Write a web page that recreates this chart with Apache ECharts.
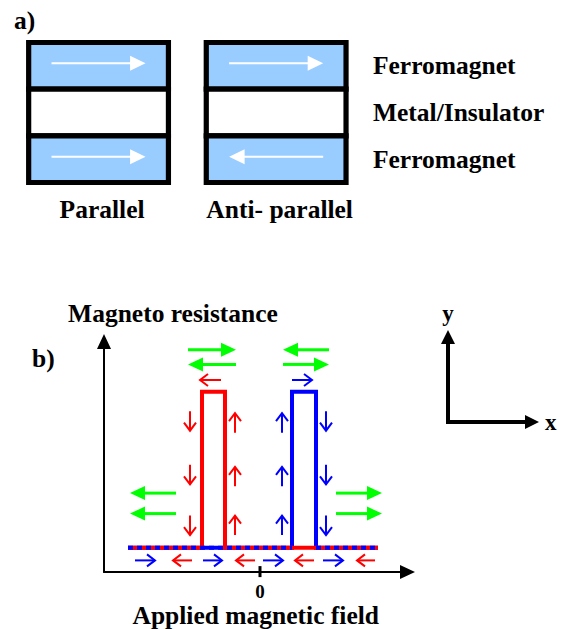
<!DOCTYPE html>
<html><head><meta charset="utf-8">
<script src="https://cdn.jsdelivr.net/npm/echarts@6/dist/echarts.min.js"></script>
<style>html,body{margin:0;padding:0;background:#fff}#c{width:567px;height:629px}</style>
</head><body><div id="c"></div>
<script>
// ---------------- data ----------------
// a) spin-valve stacks
const configurations = ['Parallel', 'Anti- parallel'];
const layers = ['Ferromagnet', 'Metal/Insulator', 'Ferromagnet'];
// magnetisation of each layer: +1 = right, -1 = left, 0 = non-magnetic spacer
const magnetParallel = [1, 0, 1];
const magnetAntiParallel = [1, 0, -1];

// b) magnetoresistance loop, points are [applied field, resistance]
const fieldRange = [-15.6, 14.75];
const resistanceRange = [0, 23.65];
const fieldTicks = [0];
const sweepDown = [[11.8, 2.5], [-3.5, 2.5], [-3.5, 18.5], [-5.8, 18.5], [-5.8, 2.5], [-13.2, 2.5]];   // red
const sweepUp = [[-13.2, 2.5], [3.2, 2.5], [3.2, 18.5], [5.6, 18.5], [5.6, 2.5], [11.8, 2.5]];       // blue

// arrows: [fieldFrom, resFrom, fieldTo, resTo] (tail -> tip)
const layerArrows = [           // green: magnetisation of the two layers
  [-8.4, 8.1, -13.0, 8.1], [-8.4, 6.0, -13.0, 6.0],
  [-7.2, 22.8, -2.4, 22.8], [-2.4, 21.3, -7.2, 21.3],
  [6.9, 22.8, 2.3, 22.8], [2.3, 21.3, 6.9, 21.3],
  [7.6, 8.1, 12.2, 8.1], [7.6, 6.0, 12.2, 6.0]
];
const sweepDownArrows = [       // red
  [-3.9, 19.7, -6.0, 19.7],
  [-7.0, 16.5, -7.0, 14.5], [-7.0, 11.0, -7.0, 9.0], [-7.0, 5.8, -7.0, 3.8],
  [-2.5, 14.3, -2.5, 16.3], [-2.5, 8.8, -2.5, 10.8], [-2.5, 3.8, -2.5, 5.8],
  [-6.8, 1.2, -8.7, 1.2], [-0.5, 1.2, -2.4, 1.2], [5.4, 1.2, 3.5, 1.2], [11.5, 1.2, 9.7, 1.2]
];
const sweepUpArrows = [         // blue
  [3.2, 19.7, 5.2, 19.7],
  [2.2, 14.3, 2.2, 16.3], [2.2, 8.8, 2.2, 10.8], [2.2, 3.8, 2.2, 5.8],
  [6.6, 16.5, 6.6, 14.5], [6.6, 11.0, 6.6, 9.0], [6.6, 5.8, 6.6, 3.8],
  [-12.5, 1.2, -10.5, 1.2], [-5.7, 1.2, -3.8, 1.2], [0.3, 1.2, 2.3, 1.2], [6.3, 1.2, 8.3, 1.2]
];

// ---------------- rendering ----------------
const FONT = "'Liberation Serif', 'Times New Roman', serif";
const txt = (size) => ({ fontFamily: FONT, fontWeight: 'bold', fontSize: size, color: '#000' });

const magnetByConfig = [magnetParallel, magnetAntiParallel];
const stackData = [];
configurations.forEach((c, i) => layers.forEach((l, j) => stackData.push([i, j, magnetByConfig[i][j]])));

function renderStack(params, api) {
  const c = api.coord([api.value(0), api.value(1)]);
  const s = api.size([1, 1]);
  const w = s[0] * 0.787, h = s[1];
  const m = api.value(2);
  const children = [{
    type: 'rect',
    shape: { x: c[0] - w / 2, y: c[1] - h / 2, width: w, height: h },
    style: { fill: m ? '#99CCFF' : '#FFFFFF', stroke: '#000', lineWidth: 5.2 }
  }];
  if (m) {
    const half = w * 0.673 / 2, cy = c[1] - 2.5;
    const tail = c[0] - m * half, tip = c[0] + m * half, base = tip - m * 15.5;
    children.push({ type: 'line', shape: { x1: tail, y1: cy, x2: base + m, y2: cy }, style: { stroke: '#fff', lineWidth: 2 } });
    children.push({ type: 'polygon', shape: { points: [[tip, cy], [base, cy - 7.5], [base, cy + 7.5]] }, style: { fill: '#fff' } });
  }
  return { type: 'group', children };
}

function arrowRenderer(filled, headLen, headHalf, width) {
  return function (params, api) {
    const p1 = api.coord([api.value(0), api.value(1)]);
    const p2 = api.coord([api.value(2), api.value(3)]);
    const color = api.visual('color');
    const dx = p2[0] - p1[0], dy = p2[1] - p1[1];
    const len = Math.hypot(dx, dy);
    const ux = dx / len, uy = dy / len, px = -uy, py = ux;
    const bx = p2[0] - ux * headLen, by = p2[1] - uy * headLen;
    const wing1 = [bx + px * headHalf, by + py * headHalf];
    const wing2 = [bx - px * headHalf, by - py * headHalf];
    const children = [];
    if (filled) {
      children.push({ type: 'line', shape: { x1: p1[0], y1: p1[1], x2: bx + ux, y2: by + uy }, style: { stroke: color, lineWidth: width } });
      children.push({ type: 'polygon', shape: { points: [p2, wing1, wing2] }, style: { fill: color } });
    } else {
      children.push({ type: 'line', shape: { x1: p1[0], y1: p1[1], x2: p2[0], y2: p2[1] }, style: { stroke: color, lineWidth: width } });
      children.push({ type: 'polyline', shape: { points: [wing1, p2, wing2] }, style: { stroke: color, lineWidth: width, fill: 'none' } });
    }
    return { type: 'group', children };
  };
}

function renderTick(params, api) {
  const p = api.coord([api.value(0), api.value(1)]);
  return { type: 'line', shape: { x1: p[0], y1: p[1] - 6, x2: p[0], y2: p[1] + 5 }, style: { stroke: '#000', lineWidth: 3 } };
}

// dashed overlay where the blue branch runs along the low-resistance baseline
const baseRes = Math.min(...sweepUp.map(p => p[1]));
const overlaySegments = [];
for (let i = 0; i < sweepUp.length - 1; i++) {
  if (sweepUp[i][1] === baseRes && sweepUp[i + 1][1] === baseRes) overlaySegments.push([sweepUp[i], sweepUp[i + 1]]);
}

const hidden = { axisTick: { show: false }, axisLabel: { show: false }, splitLine: { show: false } };

const option = {
  animation: false,
  backgroundColor: '#fff',
  title: [
    { text: 'a)', left: 14, top: 7, padding: 0, textStyle: txt(25.5) },
    { text: 'b)', left: 32, top: 345, padding: 0, textStyle: txt(25.5) }
  ],
  grid: [
    { left: 9.75, top: 42.5, width: 355.2, height: 140 },
    { left: 104, top: 341.5, width: 303.5, height: 236.5 },
    { left: 448, top: 337, width: 84, height: 85 }
  ],
  xAxis: [
    { gridIndex: 0, type: 'category', data: configurations, position: 'bottom',
      axisLine: { show: false }, axisTick: { show: false }, splitLine: { show: false },
      axisLabel: Object.assign({ interval: 0, margin: 13.5, padding: [0, 0, 0, 7] }, txt(25.5)) },
    { gridIndex: 1, type: 'value', min: fieldRange[0], max: fieldRange[1],
      axisLine: { show: true, onZero: false, symbol: ['none', 'triangle'], symbolSize: [14, 15], lineStyle: { color: '#000', width: 2 } },
      axisTick: { show: false }, splitLine: { show: false },
      axisLabel: Object.assign({ customValues: fieldTicks, margin: 10 }, txt(19)),
      name: 'Applied magnetic field', nameLocation: 'middle', nameGap: 23, nameTextStyle: txt(25.5) },
    Object.assign({ gridIndex: 2, type: 'value', min: 0, max: 1,
      axisLine: { show: true, onZero: false, symbol: ['none', 'triangle'], symbolSize: [14, 14], lineStyle: { color: '#000', width: 4, cap: 'square' } },
      name: 'x', nameLocation: 'end', nameGap: 13, nameTextStyle: Object.assign({ align: 'left', verticalAlign: 'middle' }, txt(23)) }, hidden)
  ],
  yAxis: [
    { gridIndex: 0, type: 'category', data: layers, inverse: true, position: 'right',
      axisLine: { show: false }, axisTick: { show: false }, splitLine: { show: false },
      axisLabel: Object.assign({ interval: 0, margin: 8, padding: [0, 0, 4, 0] }, txt(25.5)) },
    Object.assign({ gridIndex: 1, type: 'value', min: resistanceRange[0], max: resistanceRange[1],
      axisLine: { show: true, onZero: false, symbol: ['none', 'triangle'], symbolSize: [14, 15], lineStyle: { color: '#000', width: 2 } },
      name: 'Magneto resistance', nameLocation: 'end', nameGap: 28.5,
      nameTextStyle: Object.assign({ align: 'center', verticalAlign: 'middle', padding: [0, 0, 0, 138] }, txt(25.5)) }, hidden),
    Object.assign({ gridIndex: 2, type: 'value', min: 0, max: 1,
      axisLine: { show: true, onZero: false, symbol: ['none', 'triangle'], symbolSize: [14, 14], lineStyle: { color: '#000', width: 4, cap: 'square' } },
      name: 'y', nameLocation: 'end', nameGap: 12, nameTextStyle: Object.assign({ align: 'center', verticalAlign: 'bottom' }, txt(23)) }, hidden)
  ],
  series: [
    { type: 'custom', name: 'stack', xAxisIndex: 0, yAxisIndex: 0, renderItem: renderStack, data: stackData },
    { type: 'line', name: 'sweep up', xAxisIndex: 1, yAxisIndex: 1, data: sweepUp, showSymbol: false, symbol: 'none',
      lineStyle: { color: '#0000FF', width: 4, join: 'miter' }, z: 3 },
    { type: 'line', name: 'sweep down', xAxisIndex: 1, yAxisIndex: 1, data: sweepDown, showSymbol: false, symbol: 'none',
      lineStyle: { color: '#FF0000', width: 4, join: 'miter' }, z: 3 },
    ...overlaySegments.map(seg => ({ type: 'line', xAxisIndex: 1, yAxisIndex: 1, data: seg, showSymbol: false, symbol: 'none',
      lineStyle: { color: '#0000FF', width: 4, type: [5, 4] }, z: 3 })),
    { type: 'custom', name: 'layers', xAxisIndex: 1, yAxisIndex: 1, renderItem: arrowRenderer(true, 15, 7, 3),
      itemStyle: { color: '#00FF00' }, data: layerArrows, encode: { x: [0, 2], y: [1, 3] } },
    { type: 'custom', name: 'down arrows', xAxisIndex: 1, yAxisIndex: 1, renderItem: arrowRenderer(false, 8, 6, 2),
      itemStyle: { color: '#FF0000' }, data: sweepDownArrows, encode: { x: [0, 2], y: [1, 3] } },
    { type: 'custom', name: 'up arrows', xAxisIndex: 1, yAxisIndex: 1, renderItem: arrowRenderer(false, 8, 6, 2),
      itemStyle: { color: '#0000FF' }, data: sweepUpArrows, encode: { x: [0, 2], y: [1, 3] } },
    { type: 'custom', name: 'zero tick', xAxisIndex: 1, yAxisIndex: 1, renderItem: renderTick,
      data: fieldTicks.map(v => [v, resistanceRange[0]]), z: 5 }
  ]
};

const chart = echarts.init(document.getElementById('c'), null, { renderer: 'svg' });
chart.setOption(option);
</script>
</body></html>
